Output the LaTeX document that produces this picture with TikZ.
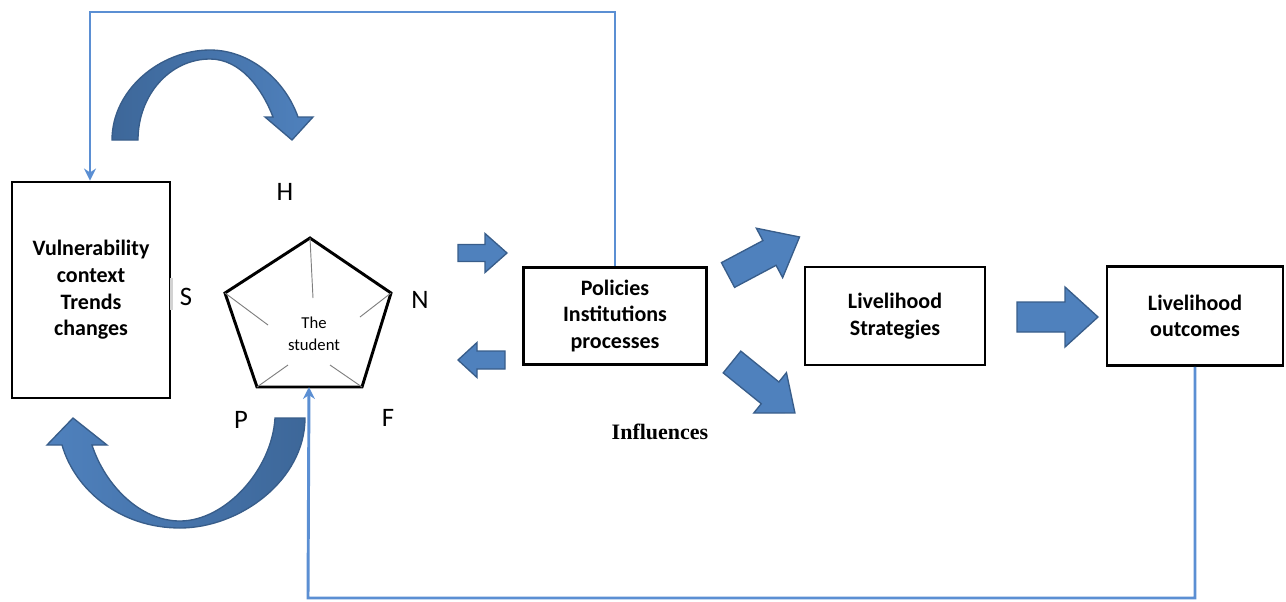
\documentclass[tikz,border=0pt]{standalone}
\usepackage{fontspec}
\setmainfont{Carlito}
\newfontfamily\infont{Liberation Serif}
\usetikzlibrary{arrows.meta,calc}
\definecolor{SLBlue}{HTML}{4F81BD}
\definecolor{SLBlueDark}{HTML}{3D6799}
\definecolor{SLEdge}{HTML}{385D8A}
\definecolor{SLLine}{HTML}{5B8FD3}
\definecolor{SLSpoke}{HTML}{7F7F7F}
\newdimen\px \px=0.75pt
\tikzset{
  >={Stealth[length=9pt,width=9pt]},
  slbox/.style={draw=black, line width=2.2pt, fill=white, align=center,
    font=\fontsize{16.5}{20}\selectfont\bfseries, inner sep=0pt},
  slletter/.style={font=\fontsize{20}{24}\selectfont, inner sep=0pt},
  slblock/.style={draw=SLEdge, line width=1pt, fill=SLBlue, line join=miter},
  slcurve/.style={draw=SLEdge, line width=1pt, line join=miter},
  slfeed/.style={draw=SLLine, line width=2.2pt},
  slpent/.style={draw=black, line width=2.2pt, line join=miter},
  slspoke/.style={draw=SLSpoke, line width=0.7pt}
}
% tail x, tail y, angle, length, shaft, head, head length
\newcommand{\blockarrow}[7]{%
  \begin{scope}[shift={(#1,#2)}, rotate=#3]
    \draw[slblock] (0,{-#5/2}) -- ({#4-#7},{-#5/2}) -- ({#4-#7},{-#6/2}) -- (#4,0)
      -- ({#4-#7},{#6/2}) -- ({#4-#7},{#5/2}) -- (0,{#5/2}) -- cycle;
  \end{scope}}

\begin{document}
\begin{tikzpicture}[x=0.75pt, y=-0.75pt]
  \useasboundingbox (0,0) rectangle (1286,601);

  \node[slbox, minimum width=158\px, minimum height=216\px] (vul) at (91,290)
    {Vulnerability\\context\\Trends\\changes};
  \draw[draw=gray!35, line width=2.2pt] ($(vul.east)+(0,-12)$) -- ($(vul.east)+(0,20)$);

  \node[slbox, minimum width=183\px, minimum height=97\px] (pol) at (615,316)
    {Policies\\Institutions\\processes};
  \node[slbox, minimum width=180\px, minimum height=98\px] (strat) at (895,316)
    {Livelihood\\Strategies};
  \node[slbox, minimum width=176\px, minimum height=99\px] (outc) at (1195,316)
    {Livelihood\\outcomes};

  % the pentagon
  \coordinate (pt) at (310,238);
  \coordinate (pr) at (391,293);
  \coordinate (pbr) at (362,387);
  \coordinate (pbl) at (257,387);
  \coordinate (pl) at (225,293);
  \coordinate (pb) at (309,387);
  \draw[slpent] (pt) -- (pr) -- (pbr) -- (pbl) -- (pl) -- cycle;
  \draw[slspoke] (pt) -- (313,298);
  \draw[slspoke] (pl) -- (268,325);
  \draw[slspoke] (pr) -- (360,317);
  \draw[slspoke] (pbl) -- (288,365);
  \draw[slspoke] (pbr) -- (330,365);
  \node[align=center, inner sep=0pt, font=\fontsize{12.5}{16.5}\selectfont] (student)
    at (314,334) {The\\student};

  \node[slletter] (lblH) at (285,192) {H};
  \node[slletter] (lblS) at (186,297) {S};
  \node[slletter] (lblN) at (420,300) {N};
  \node[slletter] (lblP) at (241,420) {P};
  \node[slletter] (lblF) at (388,418) {F};

  \node[inner sep=0pt, font=\infont\fontsize{16.5}{19}\selectfont\bfseries] (infl)
    at (660,432) {Influences};

  % block arrows
  \blockarrow{458}{253}{0}{49}{17}{39}{22}
  \blockarrow{505}{360}{180}{47}{18}{35}{19}
  \blockarrow{728}{275}{28}{81}{28}{56}{34}
  \blockarrow{732}{362}{-39}{81}{28}{52}{32}
  \blockarrow{1017}{317}{0}{81}{30}{60}{33}

  % curved arrows
  \draw[slcurve, left color=SLBlueDark, right color=SLBlue]
    (112,140) .. controls (112,90) and (160,50) .. (210,50)
    .. controls (250,50) and (285,80) .. (298,117)
    -- (313,117) -- (292,140) -- (265,117) -- (273,117)
    .. controls (262,88) and (240,59) .. (210,59)
    .. controls (170,59) and (138,95) .. (138,140) -- cycle;
  \draw[slcurve, left color=SLBlue, right color=SLBlueDark]
    (305,418) .. controls (305,480) and (240,528) .. (180,528)
    .. controls (120,528) and (75,490) .. (62,445)
    -- (47,445) -- (73,418) -- (107,445) -- (92,445)
    .. controls (105,485) and (140,521) .. (180,521)
    .. controls (225,521) and (272,470) .. (275,418) -- cycle;

  % feedback lines
  \coordinate (topc) at (90,12);
  \coordinate (botc) at (308,598);
  \draw[slfeed, ->] (pol.north) |- (topc) -- (vul.north-|topc);
  \draw[slfeed, ->] (outc.south) |- (botc) -- (pb);
\end{tikzpicture}
\end{document}
